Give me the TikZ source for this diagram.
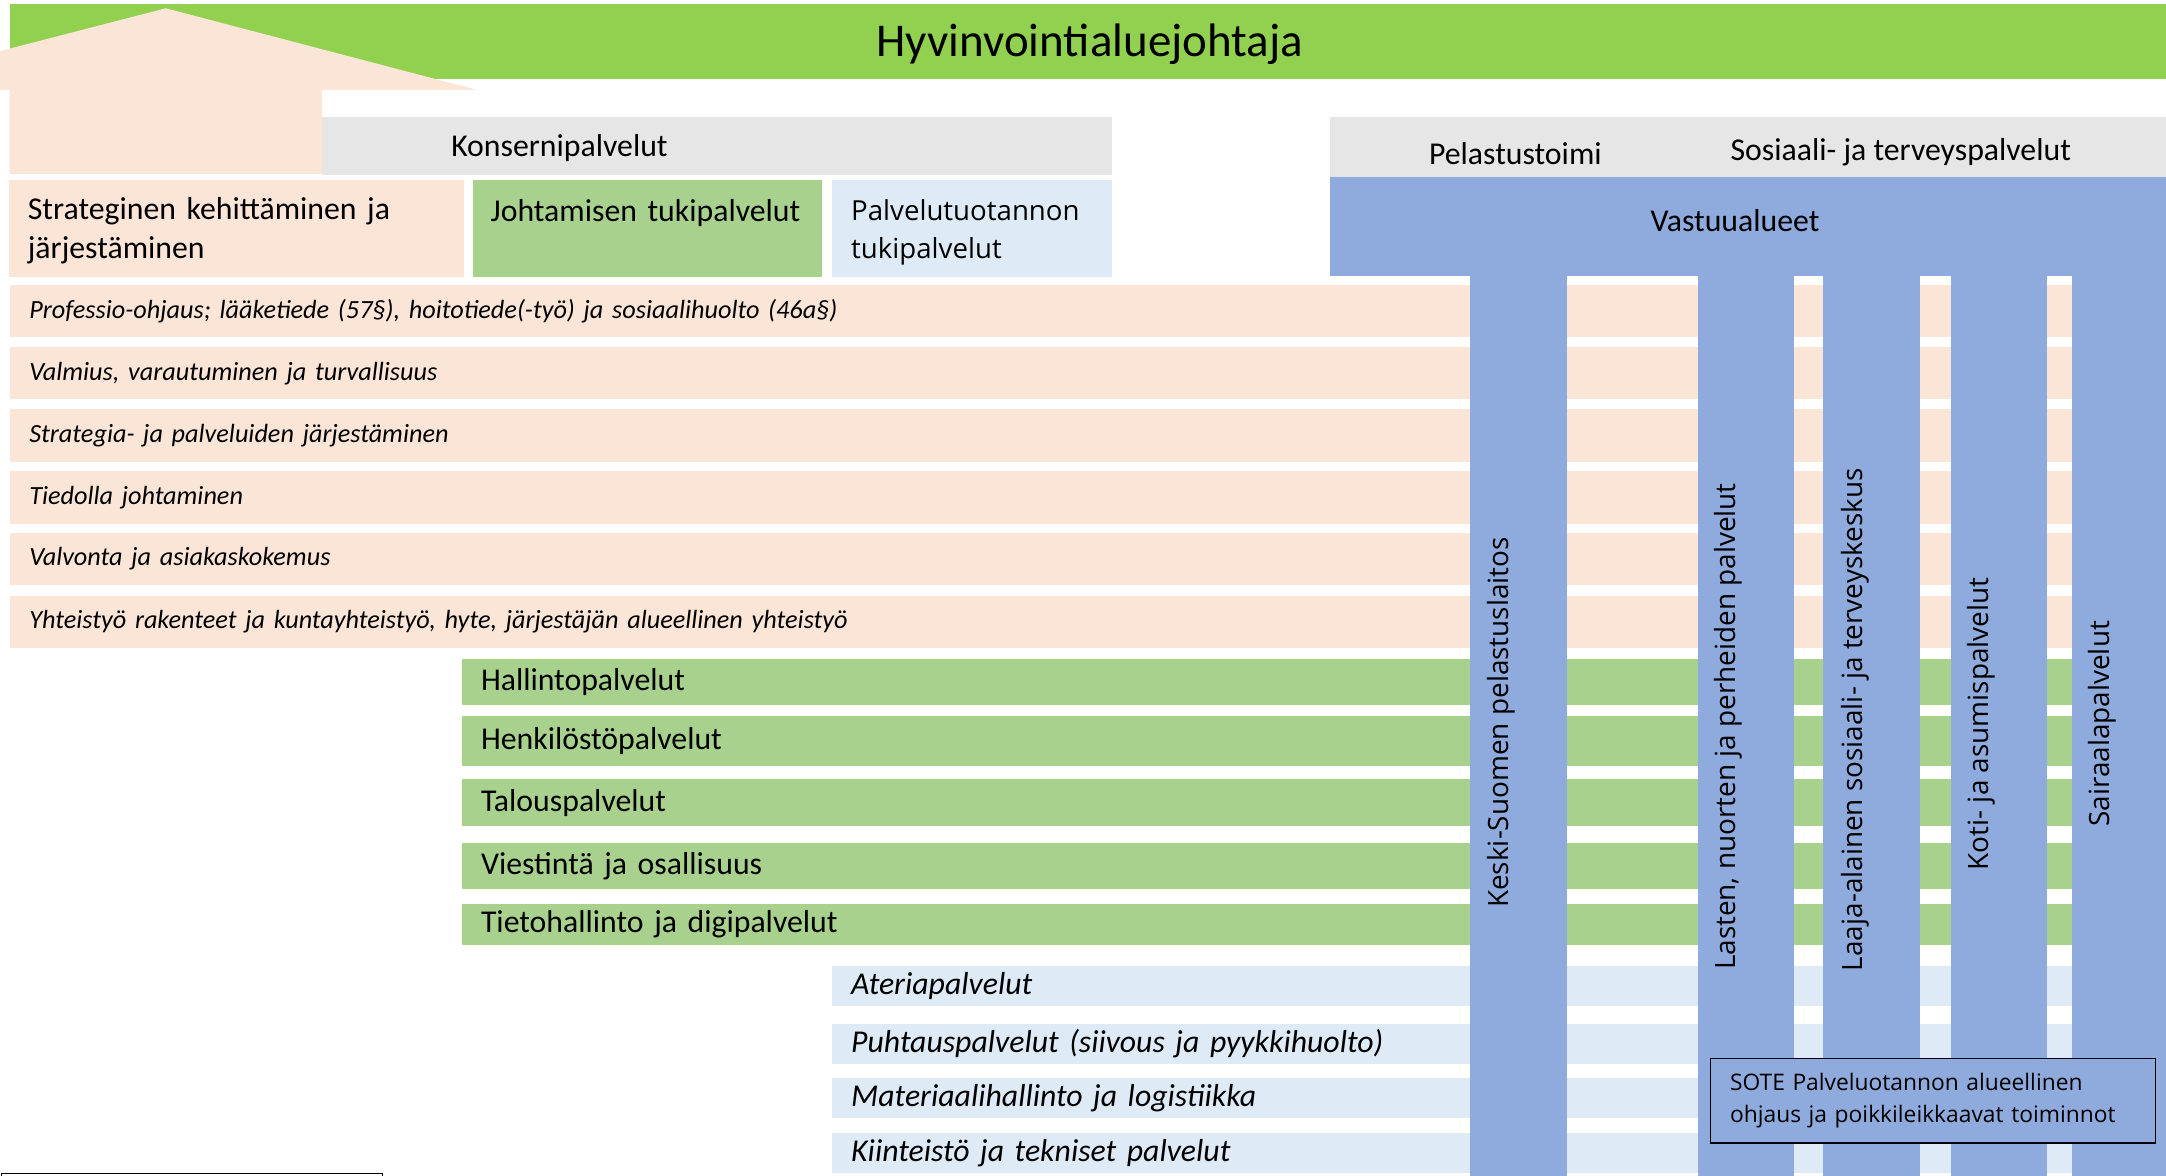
\documentclass[tikz,border=0pt]{standalone}
\usepackage{fontspec}
\setmainfont{Carlito}
\newfontfamily\segoe{Open Sans}
\definecolor{titlegreen}{HTML}{92D050}
\definecolor{peach}{HTML}{FBE5D6}
\definecolor{leaf}{HTML}{A9D18E}
\definecolor{sky}{HTML}{DEEBF7}
\definecolor{steel}{HTML}{8FAADC}
\definecolor{mist}{HTML}{E7E6E6}
\begin{document}
\begin{tikzpicture}[x=1pt,y=-1pt]
    \tikzstyle{every node}=[inner sep=0pt, text=black]
    \tikzstyle{big}=[font=\fontsize{23}{28}\selectfont]
    \tikzstyle{band}=[anchor=north west, inner xsep=14pt, align=left]
    \tikzstyle{vert}=[rotate=90, font=\segoe\fontsize{20.2}{24}\selectfont]
    \useasboundingbox (0,0) rectangle (1568,851);

    \fill[titlegreen] (7,3) rectangle (1568,57);
    \node (hyv) at (789,32) {\fontsize{34}{40}\selectfont Hyvinvointialuejohtaja};
    \fill[peach] (0,37) -- (120,6) -- (345,65) -- (233,65) -- (233,126) -- (7,126) -- (7,65) -- (0,65) -- cycle;

    \fill[mist] (233,85) rectangle (805,127);
    \node[big] (kon) at (405,107) {Konsernipalvelut};
    \fill[mist] (963,85) rectangle (1568,128);
    \node[big] (pel) at (1097,111) {Pelastustoimi};
    \node[big] (sot) at (1376,110) {Sosiaali- ja terveyspalvelut};

    \node[band, big, fill=peach, text width=302pt, minimum height=70pt] (str) at (6,130) {\rule{0pt}{20pt}Strateginen kehittäminen ja\\järjestäminen};
    \node[band, big, fill=leaf, inner xsep=13pt, text width=227pt, minimum height=70pt] (joh) at (342,130) {\rule{0pt}{19pt}Johtamisen tukipalvelut\\\mbox{}};
    \node[band, fill=sky, font=\segoe\fontsize{20}{28}\selectfont, text width=175pt, minimum height=70pt] (pal) at (602,130) {\rule{0pt}{21pt}Palvelutuotannon\\tukipalvelut};

    \foreach \y/\h/\txt [count=\i] in {206/38/{Professio-ohjaus; lääketiede (57§), hoitotiede(-työ) ja sosiaalihuolto (46a§)},
        251/38/{Valmius, varautuminen ja turvallisuus}, 296/38/{Strategia- ja palveluiden järjestäminen},
        341/38/{Tiedolla johtaminen}, 386/37/{Valvonta ja asiakaskokemus},
        431/38/{Yhteistyö rakenteet ja kuntayhteistyö, hyte, järjestäjän alueellinen yhteistyö}}
        \node[band, fill=peach, font=\itshape\fontsize{19}{23}\selectfont, text width=1465pt, minimum height=\h] (kon\i) at (7,\y) {\txt};

    \foreach \y/\h/\txt [count=\i] in {477/33/Hallintopalvelut, 518/36/Henkilöstöpalvelut, 564/34/Talouspalvelut,
        610/33/Viestintä ja osallisuus, 654/30/Tietohallinto ja digipalvelut}
        \node[band, big, fill=leaf, text width=1138pt, minimum height=\h] (joh\i) at (334,\y) {\txt};

    \foreach \y/\txt [count=\i] in {699/Ateriapalvelut, 741/{Puhtauspalvelut (siivous ja pyykkihuolto)},
        780/Materiaalihallinto ja logistiikka, 820/Kiinteistö ja tekniset palvelut}
        \node[band, fill=sky, font=\itshape\fontsize{23}{28}\selectfont, text width=870pt, minimum height=29] (pal\i) at (602,\y) {\txt};

    \fill[steel] (963,128) rectangle (1568,200);
    \foreach \a/\b in {1064/1134, 1229/1299, 1320/1390, 1412/1482, 1500/1568}
        \fill[steel] (\a,199) rectangle (\b,860);
    \node[big] (vas) at (1256,160) {Vastuualueet};

    \node[vert] (ksp) at (1087,523) {Keski-Suomen pelastuslaitos};
    \node[vert] (lnp) at (1251,526) {Lasten, nuorten ja perheiden palvelut};
    \node[vert] (lst) at (1343,521) {Laaja-alainen sosiaali- ja terveyskeskus};
    \node[vert] (kap) at (1434,524) {Koti- ja asumispalvelut};
    \node[vert] (sai) at (1522,524) {Sairaalapalvelut};

    \node[band, draw=black, line width=0.8pt, fill=steel, font=\segoe\fontsize{16.5}{23}\selectfont, text width=294pt, minimum height=61] (sote) at (1238,766) {SOTE Palveluotannon alueellinen\\ohjaus ja poikkileikkaavat toiminnot};

    \draw[line width=1pt] (1,849.5) rectangle (277,870);
\end{tikzpicture}
\end{document}
